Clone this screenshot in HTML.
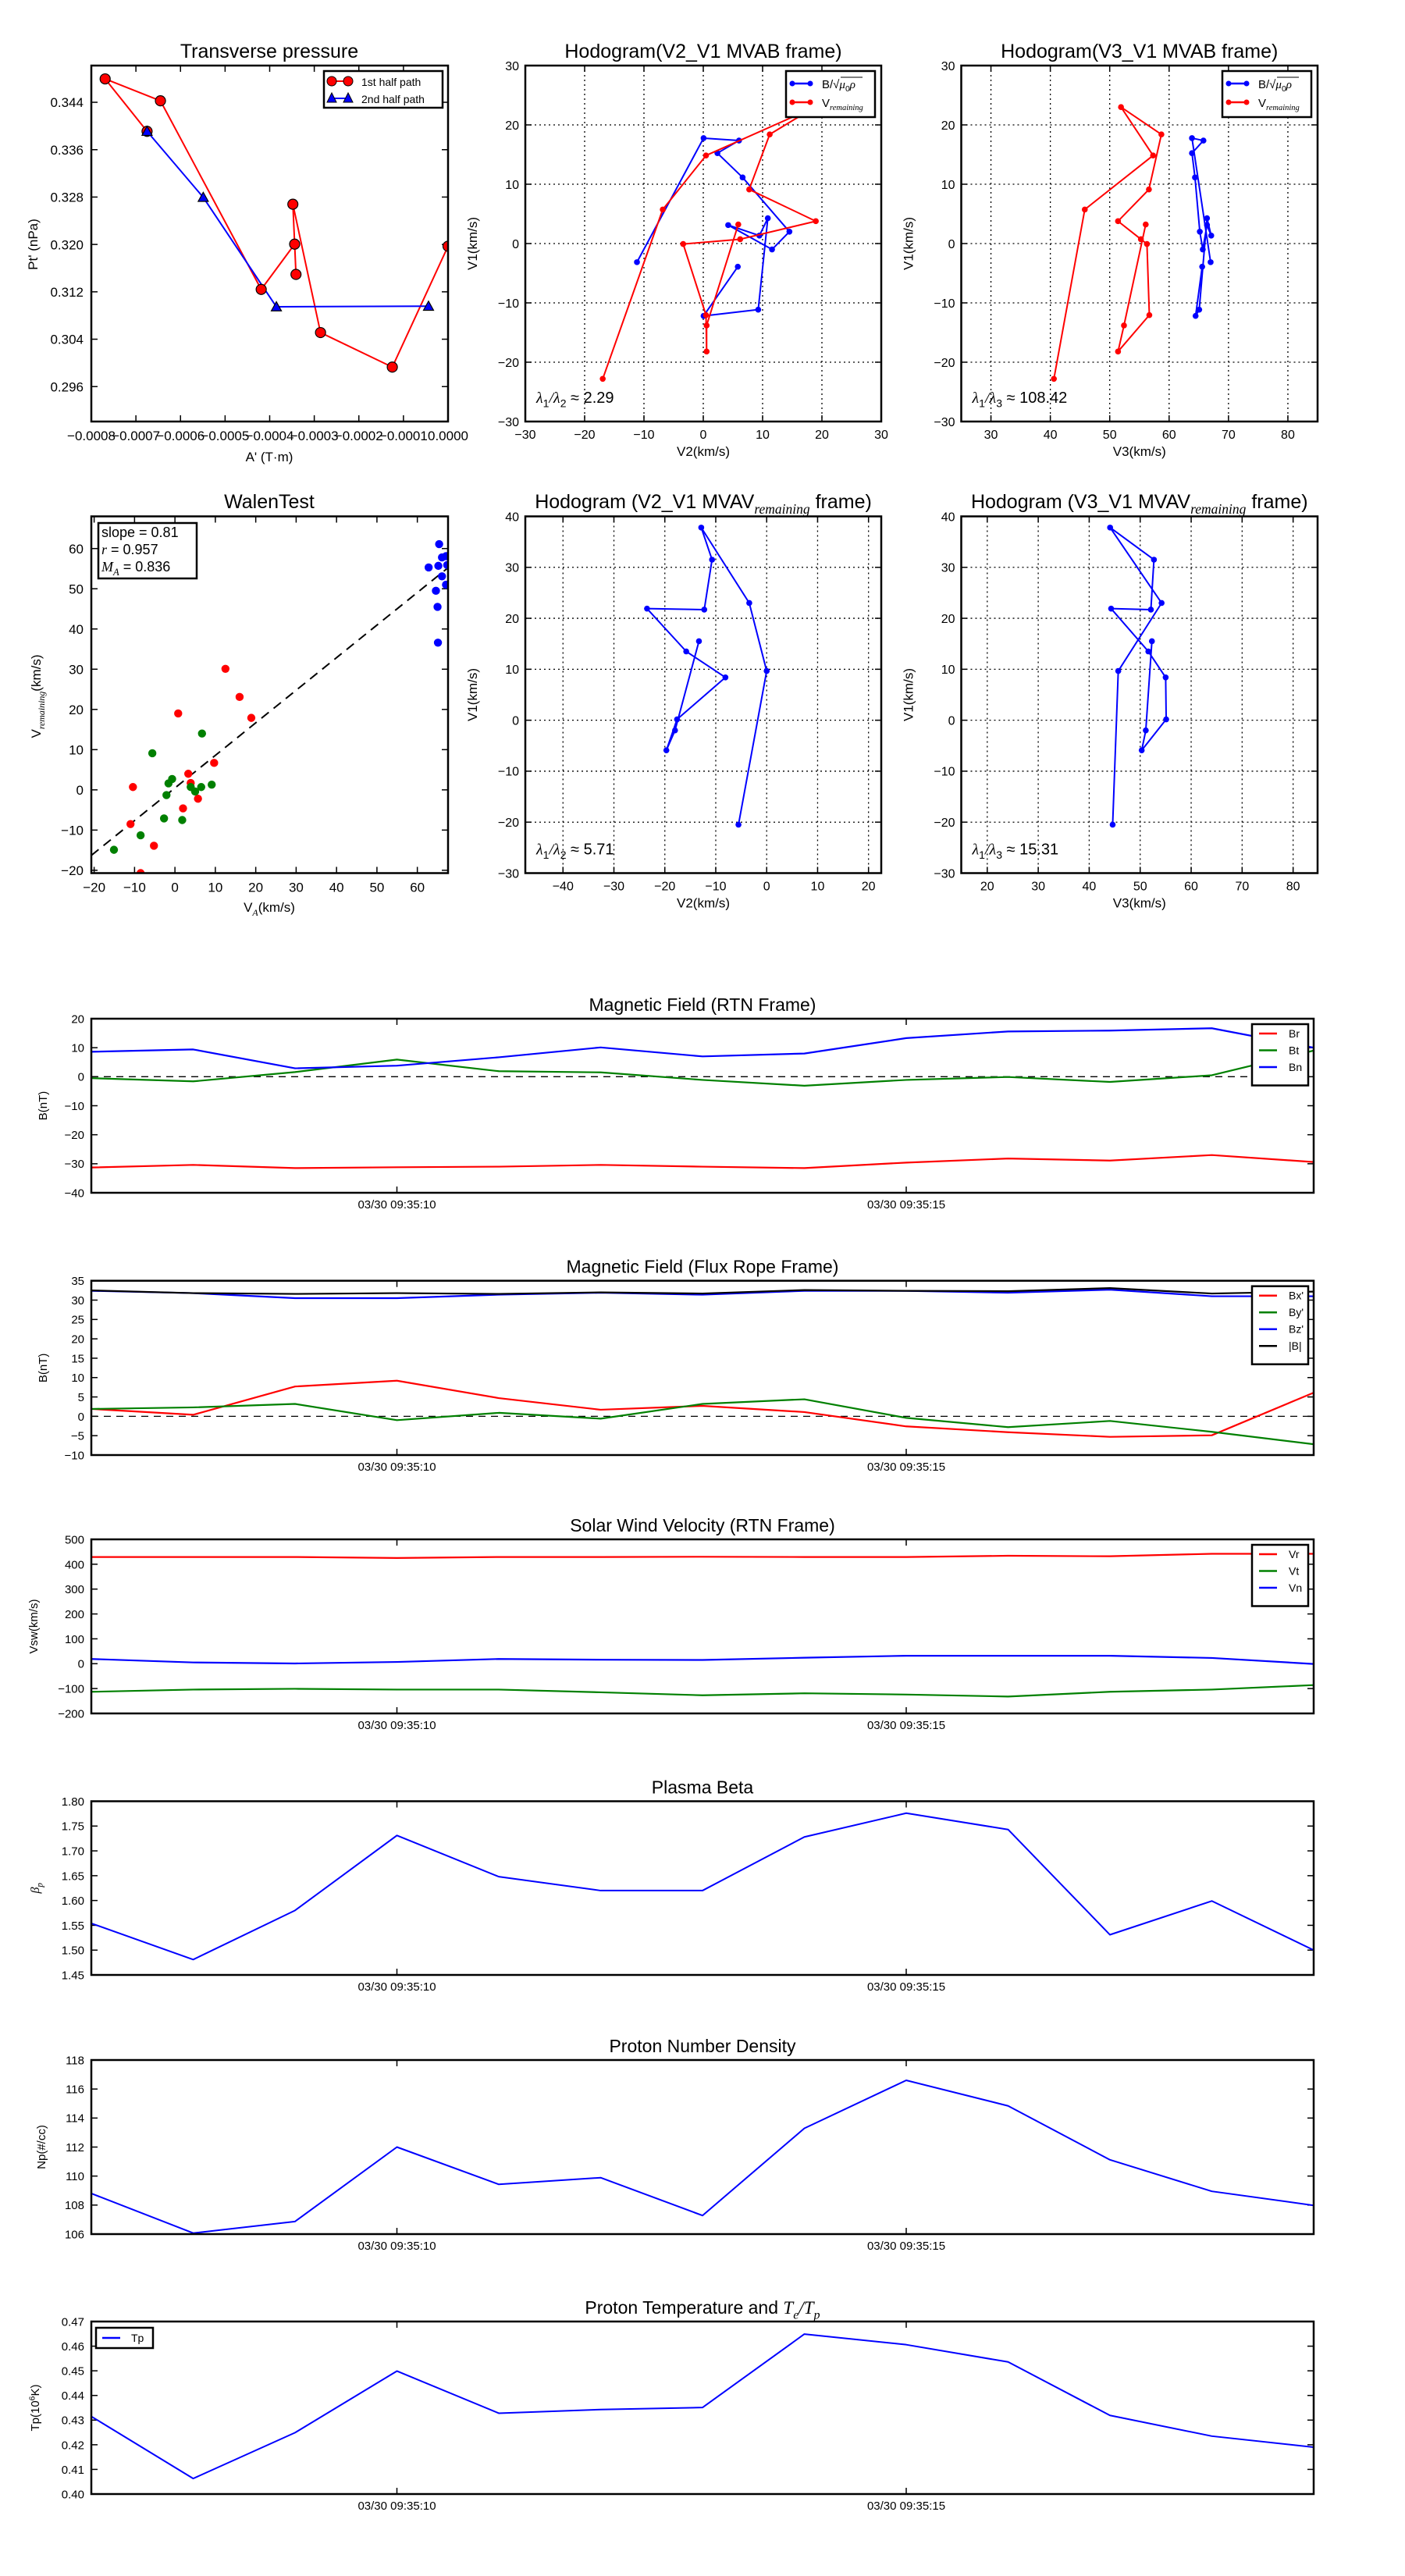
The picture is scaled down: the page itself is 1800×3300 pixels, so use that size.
<!DOCTYPE html>
<html><head><meta charset="utf-8"><title>Flux rope analysis</title>
<style>
html,body{margin:0;padding:0;background:#fff;}
svg{display:block;font-family:"Liberation Sans",sans-serif;}
</style></head>
<body>
<svg id="chart" xmlns="http://www.w3.org/2000/svg" width="1800" height="3300" viewBox="0 0 1800 3300">
<rect x="0" y="0" width="1800" height="3300" fill="#fff"/>
</svg>
<script>
// ---------- Data ----------
const tpRedA = [-0.000675,-0.000769,-0.000645,-0.000419,-0.000344,-0.000341,-0.000348,-0.000286,-0.000125,0.0];
const tpRedP = [0.3391,0.34795,0.34425,0.31241,0.32005,0.31494,0.32679,0.30512,0.29929,0.3197];
const tpBlueA = [-0.000675,-0.000549,-0.000385,-0.0000438];
const tpBlueP = [0.3391,0.32795,0.30947,0.30957];
const mvabB_V1 = [-3.14,17.77,17.36,15.24,11.14,2.0,-0.99,3.11,1.34,4.27,-11.14,-12.2,-3.9];
const mvabB_V2 = [-11.18,0.05,6.02,2.38,6.63,14.52,11.59,4.2,9.46,10.88,9.26,0.05,5.82];
const mvabB_V3 = [66.99,63.85,65.78,63.85,64.36,65.17,65.67,66.38,67.09,66.38,65.07,64.46,65.57];
const mvabV_V1 = [-22.8,5.74,14.84,23.0,18.4,9.12,3.77,0.73,-0.08,-12.06,-18.2,-13.8,3.21];
const mvabV_V2 = [-16.95,-6.83,0.46,18.8,11.2,7.74,18.97,6.22,-3.39,0.46,0.56,0.56,5.9];
const mvabV_V3 = [40.6,45.8,57.3,51.9,58.7,56.6,51.4,55.25,56.27,56.67,51.4,52.4,56.06];
const mvavV1 = [-20.5,9.66,23.0,37.8,31.5,21.7,21.9,13.5,8.4,0.17,-5.9,-2.0,15.5];
const mvavV2 = [-5.54,0.0,-3.42,-12.85,-10.73,-12.26,-23.5,-15.8,-8.1,-17.6,-19.7,-18.0,-13.3];
const mvavV3 = [44.6,45.7,54.2,44.1,52.7,52.1,44.3,51.6,55.0,55.1,50.3,51.1,52.3];
const walenRedX = [-10.4,-11.0,-8.5,-5.2,0.8,2.0,3.3,3.9,5.7,9.7,12.5,16.0,18.9];
const walenRedY = [0.7,-8.5,-20.7,-13.9,19.0,-4.6,4.0,1.7,-2.2,6.7,30.1,23.1,17.9];
const walenGreenX = [-15.1,-8.5,-5.6,-2.7,-2.1,-1.6,-0.7,1.8,3.9,5.0,6.5,6.7,9.1];
const walenGreenY = [-14.9,-11.3,9.1,-7.1,-1.3,1.6,2.7,-7.5,0.7,-0.4,0.7,14.0,1.3];
const walenBlueX = [62.8,64.6,65.0,65.1,65.4,65.2,66.1,66.1,67.1,67.1,67.4];
const walenBlueY = [55.3,49.5,45.5,36.6,61.1,55.7,57.8,53.1,58.1,51.0,55.9];
const walenSlope = 0.81;
const walenIntercept = 0.47;
const timeSec = [7,8,9,10,11,12,13,14,15,16,17,18,19];
const timeTicks = [10,15];
const timeTickLabels = ["03/30 09:35:10","03/30 09:35:15"];
const Br = [-31.3,-30.4,-31.5,-31.2,-31.0,-30.4,-31.0,-31.5,-29.6,-28.2,-28.9,-27.0,-29.4];
const Bt = [-0.5,-1.6,1.6,5.9,1.9,1.5,-1.1,-3.1,-1.1,-0.1,-1.8,0.5,9.0];
const Bn = [8.6,9.4,2.9,3.8,6.7,10.1,7.0,8.0,13.3,15.6,15.9,16.7,10.0];
const Bxp = [1.9,0.4,7.7,9.2,4.7,1.7,2.7,1.1,-2.6,-4.1,-5.3,-4.9,6.1];
const Byp = [1.9,2.3,3.2,-1.0,0.9,-0.6,3.2,4.4,-0.4,-2.8,-1.2,-4.0,-7.2];
const Bzp = [32.4,31.8,30.5,30.5,31.4,31.9,31.4,32.4,32.4,31.9,32.7,31.0,31.0];
const Bmag = [32.5,31.8,31.6,31.8,31.6,32.0,31.7,32.6,32.4,32.3,33.1,31.7,32.2];
const Vr = [429,429,429,425,429,429,430,429,429,434,432,442,442];
const Vt = [-113,-104,-101,-104,-104,-115,-127,-119,-124,-132,-113,-104,-86];
const Vn = [19,5,1,7,19,16,15,24,32,32,32,23,-1];
const betaP = [1.554,1.481,1.580,1.731,1.648,1.620,1.620,1.728,1.776,1.743,1.531,1.599,1.500];
const Np = [108.8,106.07,106.87,112.0,109.43,109.89,107.28,113.29,116.6,114.84,111.12,108.95,107.98];
const Tp = [0.4315,0.4063,0.4249,0.4499,0.4328,0.4343,0.4351,0.4649,0.4606,0.4536,0.4319,0.4235,0.419];

// ---------- Helpers ----------
const NS = 'http://www.w3.org/2000/svg';
const svg = document.getElementById('chart');
function mk(tag, attrs, parent){
  const e = document.createElementNS(NS, tag);
  for (const k in attrs) e.setAttribute(k, attrs[k]);
  (parent || svg).appendChild(e);
  return e;
}
function lin(d0,d1,p0,p1){ return v => p0 + (v-d0)/(d1-d0)*(p1-p0); }
function range(a,b,s){ const r=[]; for(let v=a; v<=b+s*1e-6; v+=s) r.push(+v.toFixed(10)); return r; }
function fmt(v,d){ const s=Math.abs(v).toFixed(d); return (v<-1e-12?'\u2212':'')+s; }
let clipId = 0;

function axes(name, box, xlim, ylim, o){
  const g = mk('g', {});
  
  
  const [L,T,R,B] = box;
  const sx = lin(xlim[0], xlim[1], L, R), sy = lin(ylim[0], ylim[1], B, T);
  const cid = 'clip' + (clipId++);
  const cp = mk('clipPath', {id: cid}, g);
  mk('rect', {x:L, y:T, width:R-L, height:B-T}, cp);
  const tk = o.tickLen || 8;
  const fs = o.fontSize || 17;
  if (o.grid){
    const gg = mk('g', {stroke:'#000','stroke-width':1.3,'stroke-dasharray':'2,4'}, g);
    
    
    o.xticks.forEach(v => { const x=sx(v); if (x>L+1 && x<R-1) mk('line',{x1:x,x2:x,y1:T,y2:B},gg); });
    o.yticks.forEach(v => { const y=sy(v); if (y>T+1 && y<B-1) mk('line',{x1:L,x2:R,y1:y,y2:y},gg); });
  }
  const tg = mk('g', {stroke:'#000','stroke-width':1.5}, g);
  
  
  o.xticks.forEach(v => { const x=sx(v); mk('line',{x1:x,x2:x,y1:B,y2:B-tk},tg); mk('line',{x1:x,x2:x,y1:T,y2:T+tk},tg); });
  o.yticks.forEach(v => { const y=sy(v); mk('line',{x1:L,x2:L+tk,y1:y,y2:y},tg); mk('line',{x1:R,x2:R-tk,y1:y,y2:y},tg); });
  const xl = mk('g', {'font-size':fs,'text-anchor':'middle',fill:'#000'}, g);
  
  
  o.xticks.forEach((v,i) => { const t=mk('text',{x:sx(v), y:B+(o.xlabOff||20)},xl); t.textContent=o.xlabels[i]; });
  const yl = mk('g', {'font-size':fs,'text-anchor':'end',fill:'#000'}, g);
  
  
  o.yticks.forEach((v,i) => { const t=mk('text',{x:L-(o.ylabOff||8), y:sy(v)+fs*0.36},yl); t.textContent=o.ylabels[i]; });
  const data = mk('g', {'clip-path':'url(#'+cid+')'}, g);
  
  
  return {g, data, sx, sy, box, finish(){
    const f = mk('rect', {x:L, y:T, width:R-L, height:B-T, fill:'none', stroke:'#000','stroke-width':o.spine||2.5}, g);
    
    
  }};
}
function polyline(ax, xs, ys, color, w, name){
  const pts = xs.map((x,i) => ax.sx(x).toFixed(2)+','+ax.sy(ys[i]).toFixed(2)).join(' ');
  const p = mk('polyline', {points:pts, fill:'none', stroke:color, 'stroke-width':w, 'stroke-linejoin':'round'}, ax.data);
  
  
  return p;
}
function dots(ax, xs, ys, color, r, name, edge){
  const gg = mk('g', {fill:color}, ax.data);
  
  
  xs.forEach((x,i) => {
    const c = mk('circle', {cx:ax.sx(x), cy:ax.sy(ys[i]), r:r}, gg);
    if (edge) { c.setAttribute('stroke','#000'); c.setAttribute('stroke-width',1.2); }
    
    
  });
}
function triangles(ax, xs, ys, color, s, name){
  const gg = mk('g', {fill:color, stroke:'#000','stroke-width':1.2}, ax.data);
  
  
  xs.forEach((x,i) => {
    const cx=ax.sx(x), cy=ax.sy(ys[i]);
    const t = mk('polygon', {points:`${cx},${cy-s} ${cx-s},${cy+s*0.8} ${cx+s},${cy+s*0.8}`}, gg);
    
    
  });
}
function text(str, x, y, size, name, extra){
  const a = Object.assign({x:x, y:y, 'font-size':size, 'text-anchor':'middle', fill:'#000'}, extra||{});
  const t = mk('text', a);
  t.textContent = str;
  
  
  return t;
}
// parts: {t, sub:true|sup:true, it:true}
function richText(parts, x, y, size, name, extra){
  const a = Object.assign({x:x, y:y, 'font-size':size, 'text-anchor':'middle', fill:'#000'}, extra||{});
  const t = mk('text', a);
  
  
  let shift = 0;
  parts.forEach(p => {
    const at = {};
    let target = 0;
    if (p.sub) target = size*0.28;
    if (p.sup) target = -size*0.38;
    const dy = target - shift;
    if (dy !== 0) at.dy = dy.toFixed(2);
    shift = target;
    if (p.sub || p.sup) at['font-size'] = (size*0.7).toFixed(1);
    if (p.it) { at['font-style'] = 'italic'; at['font-family'] = 'Liberation Serif, serif'; }
    const s = mk('tspan', at, t);
    s.textContent = p.t;
  });
  return t;
}
function legendBox(x0,y0,x1,y1,name){
  const r = mk('rect',{x:x0,y:y0,width:x1-x0,height:y1-y0,fill:'#fff',stroke:'#000','stroke-width':2.5});
  
  
}
function legendLine(x0,x1,y,color,w,name){
  const l = mk('line',{x1:x0,x2:x1,y1:y,y2:y,stroke:color,'stroke-width':w});
  
  
}

// ---------- Row 1: Transverse pressure ----------
{
  const xt = range(-0.0008, 0, 0.0001);
  const yt = range(0.296, 0.344, 0.008);
  const ax = axes('transverse-pressure-chart', [117,84,574,540], [-0.0008,0], [0.2901,0.3502], {
    xticks:xt, xlabels:xt.map(v=>fmt(v,4)), yticks:yt, ylabels:yt.map(v=>v.toFixed(3)), fontSize:17, xlabOff:24, ylabOff:10});
  polyline(ax, tpRedA, tpRedP, '#f00', 2, 'first-half-line');
  polyline(ax, tpBlueA, tpBlueP, '#00f', 2, 'second-half-line');
  dots(ax, tpRedA, tpRedP, '#f00', 6.5, 'first-half-markers', true);
  triangles(ax, tpBlueA, tpBlueP, '#00f', 6.5, 'second-half-markers');
  ax.finish();
  text('Transverse pressure', 345, 74, 25, 'transverse-pressure-title');
  text("A' (T\u00b7m)", 345, 591, 17, 'transverse-x-axis-title');
  text("Pt' (nPa)", 48, 313, 17, 'transverse-y-axis-title', {transform:'rotate(-90 48 313)'});
  legendBox(415,91,567,138,'transverse-legend');
  legendLine(425,446,104,'#f00',2,'legend-first-half-line');
  let c1=mk('circle',{cx:425,cy:104,r:6,fill:'#f00',stroke:'#000','stroke-width':1});
  
  
  let c2=mk('circle',{cx:446,cy:104,r:6,fill:'#f00',stroke:'#000','stroke-width':1});
  
  
  legendLine(425,446,126,'#00f',2,'legend-second-half-line');
  [425,446].forEach(cx=>{
    const p=mk('polygon',{points:`${cx},${119} ${cx-6},${131} ${cx+6},${131}`,fill:'#00f',stroke:'#000','stroke-width':1});
    
    
  });
  text('1st half path', 463, 110, 14, 'legend-first-half-label', {'text-anchor':'start'});
  text('2nd half path', 463, 132, 14, 'legend-second-half-label', {'text-anchor':'start'});
}

// ---------- Hodogram helper ----------
function hodo(name, box, xlim, ylim, xt, yt, series, title, xlab, lam, legend){
  const ax = axes(name, box, xlim, ylim, {xticks:xt, xlabels:xt.map(v=>fmt(v,0)), yticks:yt, ylabels:yt.map(v=>fmt(v,0)), grid:true, fontSize:16, xlabOff:22, ylabOff:8});
  series.forEach(s => { polyline(ax, s.x, s.y, s.c, 2, s.n+'-line'); dots(ax, s.x, s.y, s.c, 3.8, s.n+'-markers', false); });
  ax.finish();
  const cx = (box[0]+box[2])/2;
  title(cx);
  text(xlab, cx, box[3]+44, 17, name+'-x-axis-title');
  const ylx = box[0]-62, yly = (box[1]+box[3])/2;
  text('V1(km/s)', ylx, yly, 17, name+'-y-axis-title', {transform:`rotate(-90 ${ylx} ${yly})`});
  richText([{t:'\u03bb',it:true},{t:'1',sub:true},{t:'/',it:true},{t:'\u03bb',it:true},{t:lam[0],sub:true},{t:' \u2248 '+lam[1]}], box[0]+14, box[3]-24, 20, name+'-eigen-ratio', {'text-anchor':'start'});
  if (legend){
    const lx0 = box[2]-122, lx1 = box[2]-8;
    legendBox(lx0, box[1]+7, lx1, box[1]+66, name+'-legend');
    legendLine(lx0+8, lx0+31, box[1]+23, '#00f', 2.5, name+'-legend-b-line');
    legendLine(lx0+8, lx0+31, box[1]+47, '#f00', 2.5, name+'-legend-v-line');
    [[box[1]+23,'#00f'],[box[1]+47,'#f00']].forEach(([y,c])=>{
      [lx0+8,lx0+31].forEach(x=>{ const d=mk('circle',{cx:x,cy:y,r:3.5,fill:c});   });
    });
    richText([{t:'B/\u221a'},{t:'\u03bc',it:true},{t:'0',sub:true},{t:'\u03c1',it:true}], lx0+46, box[1]+29, 15, name+'-legend-b-label', {'text-anchor':'start'});
    const ol = mk('line',{x1:lx0+70,x2:lx0+98,y1:box[1]+15,y2:box[1]+15,stroke:'#000','stroke-width':1});
    
    
    richText([{t:'V'},{t:'remaining',sub:true,it:true}], lx0+46, box[1]+53, 15, name+'-legend-v-label', {'text-anchor':'start'});
  }
  return ax;
}
hodo('hodogram-v2-v1-mvab', [673,84,1129,540], [-30,30], [-30,30], range(-30,30,10), range(-30,30,10),
  [{x:mvabB_V2,y:mvabB_V1,c:'#00f',n:'b-alfven'},{x:mvabV_V2,y:mvabV_V1,c:'#f00',n:'v-remaining'}],
  cx => text('Hodogram(V2_V1 MVAB frame)', cx, 74, 25, 'hodogram-v2-v1-mvab-title'), 'V2(km/s)', ['2','2.29'], true);
hodo('hodogram-v3-v1-mvab', [1231.5,84,1688,540], [25,85], [-30,30], range(30,80,10), range(-30,30,10),
  [{x:mvabB_V3,y:mvabB_V1,c:'#00f',n:'b-alfven'},{x:mvabV_V3,y:mvabV_V1,c:'#f00',n:'v-remaining'}],
  cx => text('Hodogram(V3_V1 MVAB frame)', cx, 74, 25, 'hodogram-v3-v1-mvab-title'), 'V3(km/s)', ['3','108.42'], true);
hodo('hodogram-v2-v1-mvav', [673,661.5,1129,1118.5], [-47.4,22.5], [-30,40], range(-40,20,10), range(-30,40,10),
  [{x:mvavV2,y:mvavV1,c:'#00f',n:'v-remaining'}],
  cx => richText([{t:'Hodogram (V2_V1 MVAV'},{t:'remaining',sub:true,it:true},{t:' frame)'}], cx, 651, 25, 'hodogram-v2-v1-mvav-title'), 'V2(km/s)', ['2','5.71'], false);
hodo('hodogram-v3-v1-mvav', [1231.5,661.5,1688,1118.5], [14.9,84.8], [-30,40], range(20,80,10), range(-30,40,10),
  [{x:mvavV3,y:mvavV1,c:'#00f',n:'v-remaining'}],
  cx => richText([{t:'Hodogram (V3_V1 MVAV'},{t:'remaining',sub:true,it:true},{t:' frame)'}], cx, 651, 25, 'hodogram-v3-v1-mvav-title'), 'V3(km/s)', ['3','15.31'], false);

// ---------- Walen test ----------
{
  const xt = range(-20,60,10), yt = range(-20,60,10);
  const ax = axes('walen-test-chart', [117,661.5,574,1118.5], [-20.7,67.6], [-20.7,68], {
    xticks:xt, xlabels:xt.map(v=>fmt(v,0)), yticks:yt, ylabels:yt.map(v=>fmt(v,0)), fontSize:17, xlabOff:24, ylabOff:10});
  const fx = [-20.7, 67.6];
  const fl = mk('line',{x1:ax.sx(fx[0]),y1:ax.sy(walenSlope*fx[0]+walenIntercept),x2:ax.sx(fx[1]),y2:ax.sy(walenSlope*fx[1]+walenIntercept),stroke:'#000','stroke-width':2,'stroke-dasharray':'12,8'}, ax.data);
  
  
  dots(ax, walenRedX, walenRedY, '#f00', 5.2, 'walen-red-points', false);
  dots(ax, walenGreenX, walenGreenY, 'green', 5.2, 'walen-green-points', false);
  dots(ax, walenBlueX, walenBlueY, '#00f', 5.2, 'walen-blue-points', false);
  ax.finish();
  text('WalenTest', 345, 651, 25, 'walen-title');
  richText([{t:'V'},{t:'A',sub:true,it:true},{t:'(km/s)'}], 345, 1168, 17, 'walen-x-axis-title');
  richText([{t:'V'},{t:'remaining',sub:true,it:true},{t:'(km/s)'}], 52, 892, 17, 'walen-y-axis-title', {transform:'rotate(-90 52 892)'});
  legendBox(126,670,252,741,'walen-stats-box');
  text('slope = 0.81', 130, 688, 18, 'walen-slope-text', {'text-anchor':'start'});
  richText([{t:'r',it:true},{t:' = 0.957'}], 130, 710, 18, 'walen-r-text', {'text-anchor':'start'});
  richText([{t:'M',it:true},{t:'A',sub:true,it:true},{t:' = 0.836'}], 130, 732, 18, 'walen-ma-text', {'text-anchor':'start'});
}

// ---------- Time series ----------
function ts(name, top, bot, ylim, yt, yd, series, titleFn, ylabFn, legend, zero){
  const ax = axes(name, [117,top,1683,bot], [7,19], ylim, {
    xticks:timeTicks, xlabels:timeTickLabels, yticks:yt, ylabels:yt.map(v=>fmt(v,yd)), fontSize:15, xlabOff:20, ylabOff:9});
  if (zero){
    const z = mk('line',{x1:117,x2:1683,y1:ax.sy(0),y2:ax.sy(0),stroke:'#000','stroke-width':1.3,'stroke-dasharray':'9,7'}, ax.data);
    
    
  }
  series.forEach(s => polyline(ax, timeSec, s.v, s.c, s.w||2.2, name+'-'+s.n+'-line'));
  ax.finish();
  titleFn(900, top-10);
  ylabFn((top+bot)/2);
  if (legend){
    const n = series.length;
    const y0 = top+7, y1 = y0 + 14 + n*21.5;
    legendBox(1604, y0, 1676, y1, name+'-legend');
    series.forEach((s,i) => {
      const y = y0 + 12 + i*21.5;
      legendLine(1613, 1636, y, s.c, 2.5, name+'-legend-'+s.n+'-line');
      text(s.label, 1651, y+5, 14, name+'-legend-'+s.n+'-label', {'text-anchor':'start'});
    });
  }
  return ax;
}
function ylab(str, x, name){ return cy => text(str, x, cy, 15, name, {transform:`rotate(-90 ${x} ${cy})`}); }

ts('magnetic-field-rtn', 1305, 1528, [-40,20], range(-40,20,10), 0,
  [{v:Br,c:'#f00',n:'br',label:'Br'},{v:Bt,c:'green',n:'bt',label:'Bt'},{v:Bn,c:'#00f',n:'bn',label:'Bn'}],
  (x,y)=>text('Magnetic Field (RTN Frame)', x, y, 23, 'magnetic-field-rtn-title'),
  ylab('B(nT)', 60, 'magnetic-field-rtn-y-axis-title'), true, true);
ts('magnetic-field-flux-rope', 1640.7, 1864, [-10,35], range(-10,35,5), 0,
  [{v:Bxp,c:'#f00',n:'bx',label:"Bx'"},{v:Byp,c:'green',n:'by',label:"By'"},{v:Bzp,c:'#00f',n:'bz',label:"Bz'"},{v:Bmag,c:'#000',n:'bmag',label:'|B|'}],
  (x,y)=>text('Magnetic Field (Flux Rope Frame)', x, y, 23, 'magnetic-field-flux-rope-title'),
  ylab('B(nT)', 60, 'magnetic-field-flux-rope-y-axis-title'), true, true);
ts('solar-wind-velocity', 1972, 2195, [-200,500], range(-200,500,100), 0,
  [{v:Vr,c:'#f00',n:'vr',label:'Vr'},{v:Vt,c:'green',n:'vt',label:'Vt'},{v:Vn,c:'#00f',n:'vn',label:'Vn'}],
  (x,y)=>text('Solar Wind Velocity (RTN Frame)', x, y, 23, 'solar-wind-velocity-title'),
  ylab('Vsw(km/s)', 48, 'solar-wind-velocity-y-axis-title'), true, false);
ts('plasma-beta', 2307.5, 2530, [1.45,1.80], range(1.45,1.80,0.05), 2,
  [{v:betaP,c:'#00f',n:'beta',w:2}],
  (x,y)=>text('Plasma Beta', x, y, 23, 'plasma-beta-title'),
  cy => richText([{t:'\u03b2',it:true},{t:'p',sub:true,it:true}], 50, cy, 16, 'plasma-beta-y-axis-title', {transform:`rotate(-90 50 ${cy})`}), false, false);
ts('proton-density', 2639, 2862, [106,118], range(106,118,2), 0,
  [{v:Np,c:'#00f',n:'np',w:2}],
  (x,y)=>text('Proton Number Density', x, y, 23, 'proton-density-title'),
  ylab('Np(#/cc)', 58, 'proton-density-y-axis-title'), false, false);
ts('proton-temperature', 2974, 3195, [0.40,0.47], range(0.40,0.47,0.01), 2,
  [{v:Tp,c:'#00f',n:'tp',w:2}],
  (x,y)=>richText([{t:'Proton Temperature and '},{t:'T',it:true},{t:'e',sub:true,it:true},{t:'/',it:true},{t:'T',it:true},{t:'p',sub:true,it:true}], x, y, 23, 'proton-temperature-title'),
  cy => richText([{t:'Tp(10'},{t:'6',sup:true},{t:'K)'}], 50, cy, 15, 'proton-temperature-y-axis-title', {transform:`rotate(-90 50 ${cy})`}), false, false);
legendBox(123, 2982, 196, 3008, 'proton-temperature-legend');
legendLine(131, 154, 2995, '#00f', 2.5, 'proton-temperature-legend-line');
text('Tp', 168, 3000, 14, 'proton-temperature-legend-label', {'text-anchor':'start'});
</script>
</body></html>
